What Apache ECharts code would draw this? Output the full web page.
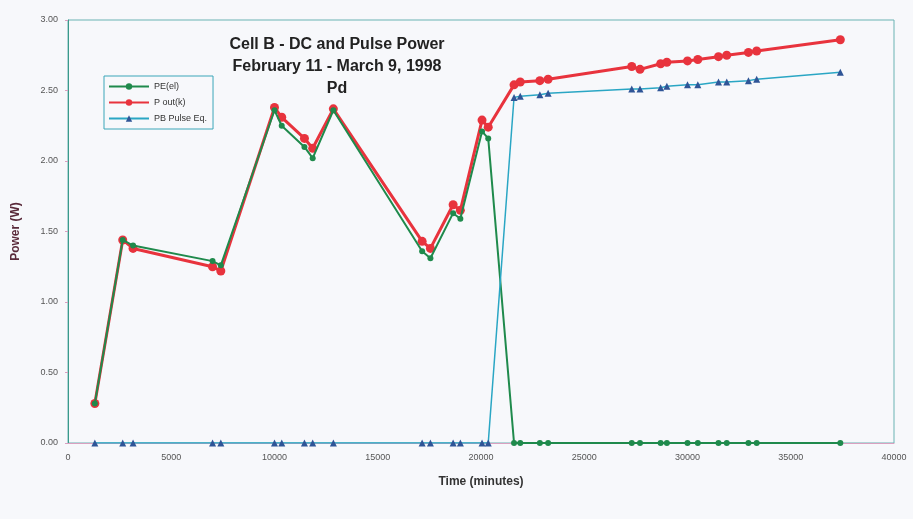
<!DOCTYPE html>
<html>
<head>
<meta charset="utf-8">
<script src="https://cdn.jsdelivr.net/npm/echarts@6/dist/echarts.min.js"></script>
<style>
  html, body { margin: 0; padding: 0; background: #ffffff; }
  #chart { width: 913px; height: 519px; }
</style>
</head>
<body>
<div id="chart"></div>
<script>
// time in minutes
var times = [1300, 2650, 3150, 7000, 7400, 10000, 10350, 11450, 11850, 12850,
  17150, 17550, 18650, 19000, 20050, 20350, 21600, 21900, 22850, 23250,
  27300, 27700, 28700, 29000, 30000, 30500, 31500, 31900, 32950, 33350, 37400];

var peEl = [0.28, 1.44, 1.40, 1.29, 1.26, 2.36, 2.25, 2.10, 2.02, 2.36,
  1.36, 1.31, 1.63, 1.59, 2.21, 2.16, 0, 0, 0, 0,
  0, 0, 0, 0, 0, 0, 0, 0, 0, 0, 0];

var pOut = [0.28, 1.44, 1.38, 1.25, 1.22, 2.38, 2.31, 2.16, 2.09, 2.37,
  1.43, 1.38, 1.69, 1.65, 2.29, 2.24, 2.54, 2.56, 2.57, 2.58,
  2.67, 2.65, 2.69, 2.70, 2.71, 2.72, 2.74, 2.75, 2.77, 2.78, 2.86];

var pbPulse = [0, 0, 0, 0, 0, 0, 0, 0, 0, 0,
  0, 0, 0, 0, 0, 0, 2.45, 2.46, 2.47, 2.48,
  2.51, 2.51, 2.52, 2.53, 2.54, 2.54, 2.56, 2.56, 2.57, 2.58, 2.63];

var titleLines = ['Cell B - DC and Pulse Power', 'February 11 - March 9, 1998', 'Pd'];

function pairs(vals){
    var out = [];
    for (var i = 0; i < times.length; i++) {
        out.push([times[i], vals[i]]);
    }
    return out;
}

var chart = echarts.init(document.getElementById('chart'));
chart.setOption({
    backgroundColor: '#f7f8fb',
    animation: false,
    title: {
        text: titleLines.join('\n'),
        left: 332,
        textAlign: 'center',
        top: 29,
        textStyle: {
            fontFamily: 'Liberation Sans',
            fontSize: 16,
            fontWeight: 'bold',
            color: '#222',
            lineHeight: 22
        }
    },
    legend: {
        orient: 'vertical',
        left: 104,
        top: 76,
        itemWidth: 40,
        itemHeight: 8,
        itemGap: 7,
        padding: [6, 6, 6, 4],
        borderColor: '#3aa6b9',
        borderWidth: 1,
        backgroundColor: '#f7f8fb',
        textStyle: { fontFamily: 'Liberation Sans', fontSize: 9, color: '#333' },
        data: ['PE(el)', 'P out(k)', 'PB Pulse Eq.']
    },
    grid: {
        left: 68,
        right: 19,
        top: 20,
        bottom: 76,
        show: true,
        borderColor: '#6bb3b3',
        borderWidth: 1
    },
    xAxis: {
        type: 'value',
        min: 0,
        max: 40000,
        interval: 5000,
        name: 'Time (minutes)',
        nameLocation: 'middle',
        nameGap: 33,
        nameTextStyle: { fontFamily: 'Liberation Sans', fontSize: 12, fontWeight: 'bold', color: '#333' },
        axisLine: { lineStyle: { color: '#d9a0c0' } },
        axisTick: { show: false },
        splitLine: { show: false },
        axisLabel: {
            fontFamily: 'Liberation Sans', fontSize: 9, color: '#555', margin: 10,
            formatter: function(v){ return String(v); }
        }
    },
    yAxis: {
        type: 'value',
        min: 0,
        max: 3,
        interval: 0.5,
        name: 'Power (W)',
        nameLocation: 'middle',
        nameGap: 46,
        nameTextStyle: { fontFamily: 'Liberation Sans', fontSize: 12, fontWeight: 'bold', color: '#5a2a3a' },
        axisLine: { show: true, lineStyle: { color: '#3a9a8a' } },
        axisTick: { show: true, length: 3, lineStyle: { color: '#d9a0c0' } },
        splitLine: { show: false },
        axisLabel: {
            fontFamily: 'Liberation Sans', fontSize: 9, color: '#555', margin: 10,
            formatter: function(v){ return v.toFixed(2); }
        }
    },
    series: [
        {
            name: 'PE(el)',
            type: 'line',
            data: pairs(peEl),
            symbol: 'circle',
            symbolSize: 6,
            z: 3,
            itemStyle: { color: '#1f8a4c' },
            lineStyle: { width: 2, color: '#1f8a4c' }
        },
        {
            name: 'P out(k)',
            type: 'line',
            data: pairs(pOut),
            symbol: 'circle',
            symbolSize: 9,
            z: 2,
            itemStyle: { color: '#e8333d' },
            lineStyle: { width: 3, color: '#e8333d' }
        },
        {
            name: 'PB Pulse Eq.',
            type: 'line',
            data: pairs(pbPulse),
            symbol: 'triangle',
            symbolSize: 7,
            z: 4,
            itemStyle: { color: '#2f5597' },
            lineStyle: { width: 1.5, color: '#2aa6c4' }
        }
    ]
});
</script>
</body>
</html>
